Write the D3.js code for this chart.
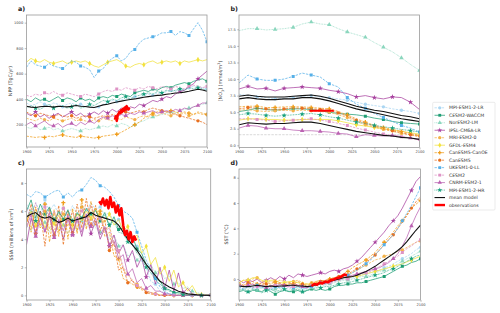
<!DOCTYPE html>
<html>
<head>
<meta charset="utf-8">
<script src="https://cdn.jsdelivr.net/npm/d3@7"></script>
<style>
body{margin:0;background:#fff;}
svg{font-family:"DejaVu Sans",sans-serif;}
</style>
</head>
<body>
<script>
// models, in legend order
var models = ["MPI-ESM1-2-LR","CESM2-WACCM","NorESM2-LM","IPSL-CM6A-LR","MRI-ESM2-0","GFDL-ESM4",
              "CanESM5-CanOE","CanESM5","UKESM1-0-LL","CESM2","CNRM-ESM2-1","MPI-ESM1-2-HR"];
var colors = ["#aad6f2","#1f9e74","#8ad6bd","#a8419f","#f3b24a","#f2e13c",
              "#f09d1c","#e8701f","#56b0e8","#de93c5","#bb62b2","#16a07c"];
var dashes = ["2.4,1.2",null,"0.8,0.8",null,"2.4,1.2",null,"2.4,1.2","2.4,1.2","2.4,1.2","2.4,1.2",null,"0.8,0.8"];
var symbols = [d3.symbolCircle,d3.symbolSquare,d3.symbolTriangle,d3.symbolStar,d3.symbolCircle,d3.symbolDiamond,
               d3.symbolCross,d3.symbolCircle,d3.symbolSquare,d3.symbolSquare,d3.symbolTriangle,d3.symbolStar];
var markOff = [0,0,0,10,0,10,0,10,0,0,10,10];

var years5 = d3.range(1900, 2101, 5);
var years10 = d3.range(1900, 2101, 10);
var xTicks = [1900,1925,1950,1975,2000,2025,2050,2075,2100];

// a) NPP (TgC/yr), every 5 years
var nppModels = [
 [370,350,360,380,360,350,370,360,340,360,370,350,360,340,350,330,340,360,370,390,380,400,390,410,420,410,430,440,430,450,440,460,470,460,480,470,490,500,480,490,480], // MPI-LR
 [400,380,410,390,400,380,400,420,390,410,400,380,410,390,400,380,410,420,410,430,420,440,430,420,450,460,470,460,480,470,490,500,490,510,520,530,520,540,550,560,540], // CESM2-WACCM
 [180,170,190,160,170,180,160,170,150,160,170,160,150,170,160,170,180,190,180,200,190,210,200,180,200,220,230,250,260,270,280,290,300,290,310,320,330,340,350,360,370], // NorESM2
 [290,270,300,260,280,250,270,290,260,280,300,270,290,260,280,300,280,310,290,320,300,330,310,340,330,360,350,370,390,380,400,420,410,440,460,470,500,520,560,590,620], // IPSL
 [250,240,230,250,240,230,250,240,230,240,250,230,240,230,220,240,230,250,240,230,250,240,260,250,240,260,270,260,280,270,290,280,270,290,280,290,270,280,290,280,280], // MRI
 [690,720,700,690,710,690,680,690,700,680,690,700,690,700,680,660,650,670,690,700,710,690,660,650,670,680,670,690,700,680,690,700,690,700,680,700,690,700,710,700,710], // GFDL
 [110,105,100,105,100,110,105,115,120,110,105,100,110,105,100,95,100,110,115,120,125,140,160,180,200,220,250,270,290,300,310,300,310,300,290,300,290,280,300,290,280], // CanOE
 [300,280,270,290,280,270,260,280,270,260,270,250,260,270,260,250,260,270,260,280,270,290,300,290,300,310,300,320,330,320,310,300,290,280,270,260,250,240,230,220,200], // CanESM5
 [650,700,670,660,650,680,660,650,640,670,700,690,660,650,630,570,620,640,690,720,740,700,720,770,790,840,870,880,890,900,920,920,930,900,930,920,900,950,1000,940,850], // UKESM
 [430,420,440,430,450,440,460,440,430,450,440,430,420,440,430,420,440,460,470,460,480,470,490,480,470,490,480,500,490,480,500,490,480,500,490,480,500,510,500,490,500], // CESM2
 [200,220,190,210,230,200,190,210,180,200,210,190,220,200,230,210,240,260,250,270,260,280,270,290,280,300,290,300,310,290,300,310,300,320,310,330,320,340,350,370,370], // CNRM
 [330,350,330,320,340,360,330,340,350,330,340,360,330,340,360,350,370,390,380,400,390,410,420,400,420,430,440,450,440,460,450,470,460,470,480,470,490,480,490,480,470]  // MPI-HR
];
var nppMean = [345,338,335,340,345,342,338,345,342,340,345,350,345,342,338,335,345,355,360,370,378,385,392,398,402,408,415,420,425,430,432,438,442,448,450,455,462,470,478,472,462];
var nppObsYears = d3.range(1998, 2015);
var nppObs = [240,265,230,275,285,300,290,315,300,325,310,335,320,345,330,320,335];

// b) [NO3] (mmol/m3), every 10 years
var no3Models = [
 [7.7,7.5,7.3,7.2,7.0,7.1,7.2,7.4,7.5,7.3,7.2,7.0,6.8,6.5,6.2,6.0,5.8,5.5,5.3,5.1,4.8],
 [5.1,5.3,5.6,5.4,5.3,5.4,5.5,5.5,5.4,5.2,5.0,4.8,4.7,4.6,4.4,4.1,3.9,3.6,3.4,3.3,3.2],
 [17.3,17.6,17.6,17.4,17.5,17.6,17.8,18.3,18.6,18.3,18.2,17.6,17.1,16.7,16.3,15.5,14.8,14.1,13.2,12.2,11.3],
 [8.5,8.9,8.5,8.6,8.2,8.6,8.7,8.8,8.7,8.6,8.3,8.1,7.8,7.3,7.5,7.2,7.0,7.3,7.2,6.5,5.4],
 [5.3,5.4,5.2,5.1,5.2,5.3,5.2,5.3,5.2,5.1,5.0,4.6,4.2,3.6,3.1,2.7,2.4,2.1,1.8,1.6,1.4],
 [3.8,4.0,4.0,3.9,3.9,3.8,3.8,3.9,3.9,3.9,3.9,3.7,3.4,3.1,2.9,2.7,2.5,2.3,2.1,1.9,1.7],
 [5.8,5.9,5.9,5.7,5.7,5.8,5.8,5.8,5.7,5.6,5.5,5.1,4.6,4.0,3.5,3.0,2.7,2.4,2.1,1.8,1.5],
 [5.5,5.7,5.6,5.5,5.4,5.5,5.6,5.6,5.5,5.4,5.3,4.9,4.4,3.8,3.3,2.9,2.5,2.2,1.9,1.6,1.3],
 [9.4,10.6,10.0,9.8,9.8,10.0,10.4,10.9,10.6,10.3,9.3,8.8,7.2,6.2,5.6,4.8,4.2,3.6,3.0,2.6,2.0],
 [4.0,4.0,3.9,3.8,3.6,3.7,3.8,3.9,4.0,3.8,3.6,3.3,3.0,2.6,2.3,2.0,1.7,1.5,1.3,1.1,0.9],
 [2.6,3.0,2.9,2.6,2.5,2.5,2.3,2.2,2.2,2.1,2.0,1.8,1.7,1.3,1.6,1.5,1.4,1.5,1.3,1.1,0.8],
 [4.6,4.8,4.7,4.5,4.4,4.5,4.6,4.7,4.8,4.6,4.3,4.1,3.8,3.5,3.3,3.0,2.8,2.6,2.4,2.2,2.0]
];
var no3MeanUpper = [7.4,7.6,7.4,7.3,7.3,7.3,7.4,7.5,7.6,7.4,7.1,6.7,6.3,5.9,5.6,5.3,5.1,4.8,4.5,4.3,4.0];
var no3MeanMid = [7.0,7.2,7.0,6.9,6.9,7.0,7.0,7.2,7.2,7.0,6.7,6.3,5.9,5.5,5.2,4.9,4.6,4.3,4.0,3.8,3.6];
var no3MeanLower = [3.1,3.4,3.3,3.2,3.3,3.3,3.4,3.5,3.5,3.3,3.0,2.7,2.4,2.1,1.9,1.7,1.5,1.4,1.2,1.1,0.9];
var no3ObsYears = [1978, 2005];
var no3Obs = [5.2, 5.2];
var no3Ref = 1.6;

// c) SSIA (millions of km2), every 5 years
var ssiaModels = [
 [6.5,5.8,6.6,5.9,6.8,6.0,6.5,5.7,6.2,5.6,6.4,5.8,6.3,6.0,6.6,6.1,6.3,5.7,5.9,5.2,5.4,4.5,4.6,3.6,3.5,2.4,2.0,1.0,0.8,0.3,0.2,0.1,0,0,0,0,0,0,0,0,0],
 [6.0,6.8,5.5,6.5,5.8,6.3,5.2,6.0,5.4,6.1,5.0,5.9,5.5,6.2,5.7,6.1,5.3,5.9,4.9,5.6,4.7,4.8,3.9,4.2,3.3,3.0,2.2,1.9,1.2,1.0,0.5,0.4,0.2,0.2,0.1,0.05,0,0,0,0,0],
 [5.0,4.6,5.4,4.8,5.2,4.5,5.3,4.7,5.0,4.4,5.1,4.6,5.3,4.9,5.5,4.8,4.5,4.8,4.0,4.3,3.5,3.6,2.8,3.0,2.5,2.8,2.0,2.2,1.6,1.8,1.2,1.4,0.8,0.9,0.5,0.6,0.3,0.2,0.1,0.05,0],
 [3.6,5.5,4.4,6.0,4.5,5.6,4.2,5.3,4.0,5.5,4.3,5.4,4.2,5.7,4.4,5.3,4.0,4.8,3.5,4.3,3.0,3.6,2.5,3.2,2.0,2.7,1.3,2.2,0.8,2.0,0.5,1.8,0.3,1.6,0.2,0.5,0.1,0.05,0,0,0],
 [5.5,4.8,6.2,5.0,6.0,4.7,6.1,4.5,5.8,4.9,6.0,4.6,6.3,5.2,6.4,5.0,5.8,4.6,5.0,3.5,3.2,1.8,1.5,1.0,0.8,0.5,0.3,0.2,0.1,0.05,0,0,0,0,0,0,0,0,0,0,0],
 [5.2,6.0,5.0,5.8,4.8,5.6,5.1,5.7,4.9,5.5,5.0,5.8,5.3,6.0,5.5,6.2,5.6,5.2,5.8,5.0,5.4,4.6,4.9,4.0,4.3,3.0,3.5,2.2,2.7,1.5,2.0,1.0,1.8,0.6,0.9,0.3,0.7,0.1,0.05,0,0],
 [5.8,4.5,6.3,4.8,6.5,3.8,6.0,4.2,6.6,4.0,6.2,4.4,6.8,4.7,6.7,5.0,6.0,4.2,4.5,2.8,2.6,1.2,1.0,0.8,0.6,0.4,0.3,0.2,0.1,0,0,0,0,0,0,0,0,0,0,0,0],
 [5.0,6.5,4.4,6.0,3.5,6.2,4.3,6.4,3.6,6.0,4.5,6.5,4.8,6.9,5.0,6.4,4.6,5.4,3.2,3.8,1.8,2.0,0.9,1.1,0.5,0.6,0.2,0.1,0.05,0,0,0,0,0,0,0,0,0,0,0,0],
 [7.2,7.0,7.4,7.3,7.0,7.2,7.4,7.5,7.0,7.3,7.0,7.4,7.5,7.9,8.4,8.2,7.8,7.7,7.4,7.0,6.4,6.0,5.8,5.5,4.5,3.5,2.5,1.8,1.2,0.6,0.3,0.1,0.05,0,0,0,0,0,0,0,0],
 [6.2,5.5,6.6,5.6,6.3,5.4,6.0,5.3,6.2,5.5,5.9,5.2,6.0,5.7,6.4,5.6,5.5,4.6,4.8,3.6,3.2,2.0,1.6,1.0,0.7,0.5,0.3,0.2,0.1,0,0,0,0,0,0,0,0,0,0,0,0],
 [4.8,5.8,4.2,5.5,4.5,5.9,4.1,5.4,4.6,5.7,4.3,5.6,4.5,5.8,4.9,5.5,4.3,4.9,3.6,3.9,2.6,2.9,1.5,1.9,0.9,1.2,0.5,0.7,0.3,0.3,0.1,0.1,0,0,0,0,0,0,0,0,0],
 [5.5,6.1,5.3,6.0,5.6,6.2,5.4,5.9,5.5,6.0,5.3,5.8,5.6,6.1,5.8,6.0,5.5,5.7,5.0,5.3,4.5,4.4,3.8,3.6,3.0,2.6,2.0,1.6,1.1,0.8,0.5,0.3,0.2,0.1,0.05,0,0,0,0,0,0]
];
var ssiaMean = [5.6,5.8,5.9,5.6,5.5,5.6,5.4,5.2,5.3,5.5,5.3,5.4,5.5,5.6,5.9,5.7,5.6,5.5,5.4,5.3,5.0,4.5,4.0,3.6,3.2,2.7,2.2,1.8,1.4,1.0,0.8,0.6,0.45,0.3,0.2,0.12,0.07,0.04,0.02,0.01,0];
var ssiaObsYears = d3.range(1979, 2020, 2);
var ssiaObs = [6.7,6.5,6.9,6.4,6.8,6.2,7.0,6.3,6.6,5.9,6.4,5.7,6.2,5.0,4.3,4.6,4.0,4.5,3.8,4.2,3.9];

// d) SST (degC), every 5 years
var sstModels = [
 [-0.7,-0.8,-0.6,-0.7,-0.8,-0.6,-0.7,-0.9,-0.7,-0.6,-0.7,-0.8,-0.7,-0.6,-0.8,-0.7,-0.6,-0.5,-0.4,-0.4,-0.3,-0.2,-0.1,0.0,0.0,0.1,0.2,0.3,0.4,0.5,0.6,0.7,0.9,1.0,1.2,1.4,1.6,1.8,2.0,2.3,2.5],
 [-1.0,-0.9,-1.1,-0.9,-0.9,-1.0,-0.8,-1.0,-1.2,-1.0,-0.9,-1.0,-1.0,-0.9,-1.1,-0.9,-0.8,-0.9,-0.8,-0.9,-0.8,-0.6,-0.5,-0.5,-0.4,-0.4,-0.3,-0.3,-0.2,-0.1,0.0,0.1,0.2,0.4,0.6,0.8,1.0,1.1,1.3,1.4,1.6],
 [-0.8,-0.9,-0.7,-0.8,-0.9,-0.7,-0.8,-1.0,-0.8,-0.7,-0.8,-0.9,-0.8,-0.7,-0.9,-0.8,-0.7,-0.6,-0.6,-0.5,-0.4,-0.3,-0.2,-0.1,-0.1,0.0,0.1,0.2,0.2,0.3,0.5,0.6,0.7,0.9,1.0,1.2,1.4,1.6,1.8,2.0,2.2],
 [-0.1,-0.3,-0.1,-0.2,0.0,-0.3,-0.1,0.1,-0.1,0.2,0.0,0.3,0.1,0.4,0.3,0.2,0.3,0.4,0.5,0.4,0.6,0.7,0.6,0.8,0.9,1.1,1.4,1.7,2.1,2.5,2.9,3.3,3.7,4.2,4.6,5.0,5.6,6.3,7.0,7.7,8.1],
 [-0.3,-0.1,-0.2,0.0,0.1,-0.2,-0.3,-0.2,-0.3,-0.1,-0.2,-0.3,-0.2,-0.1,-0.3,-0.4,-0.3,-0.2,-0.1,-0.2,-0.1,0.0,0.1,0.2,0.3,0.5,0.7,0.9,1.1,1.3,1.5,1.6,1.8,1.9,2.0,2.2,2.3,2.5,2.7,2.9,3.0],
 [-0.3,-0.1,-0.1,0.1,0.1,-0.1,-0.2,-0.1,-0.1,-0.3,-0.3,-0.2,-0.2,-0.3,-0.4,-0.4,-0.4,-0.3,-0.3,-0.2,-0.1,0.0,0.0,0.1,0.1,0.2,0.2,0.3,0.4,0.5,0.6,0.7,0.8,0.9,1.0,1.1,1.2,1.35,1.5,1.65,1.8],
 [-0.3,-0.5,-0.4,-0.2,-0.4,-0.5,-0.3,-0.4,-0.2,-0.4,-0.5,-0.3,-0.4,-0.2,-0.4,-0.5,-0.4,-0.2,-0.1,-0.2,0.0,0.1,0.2,0.4,0.6,0.9,1.1,1.3,1.5,1.8,2.1,2.5,2.9,3.3,3.7,4.2,4.6,5.1,5.6,5.9,6.2],
 [-0.4,-0.5,-0.3,-0.4,-0.5,-0.3,-0.4,-0.6,-0.4,-0.3,-0.5,-0.4,-0.3,-0.5,-0.4,-0.6,-0.5,-0.3,-0.2,-0.1,0.0,0.1,0.2,0.3,0.4,0.6,0.8,1.0,1.3,1.6,1.9,2.3,2.7,3.1,3.5,4.0,4.5,5.0,5.6,6.1,6.5],
 [-0.6,-0.8,-0.6,-0.7,-0.5,-0.7,-0.6,-0.8,-0.6,-0.7,-0.6,-0.5,-0.7,-0.6,-0.8,-0.7,-0.6,-0.5,-0.4,-0.3,-0.2,0.0,0.1,0.2,0.3,0.5,0.7,0.9,1.2,1.5,1.9,2.3,2.7,3.1,3.5,4.0,4.6,5.2,5.8,6.5,7.2],
 [-0.5,-0.6,-0.5,-0.7,-0.6,-0.5,-0.6,-0.7,-0.5,-0.6,-0.5,-0.7,-0.6,-0.5,-0.6,-0.7,-0.5,-0.4,-0.4,-0.3,-0.3,-0.2,-0.1,0.0,0.0,0.2,0.3,0.4,0.5,0.6,0.8,1.0,1.2,1.4,1.6,1.8,2.1,2.4,2.6,2.9,3.1],
 [-0.4,-0.6,-0.5,-0.4,-0.6,-0.5,-0.7,-0.5,-0.6,-0.4,-0.5,-0.6,-0.4,-0.5,-0.6,-0.7,-0.5,-0.4,-0.3,-0.4,-0.2,-0.1,0.0,0.1,0.2,0.3,0.4,0.5,0.6,0.7,0.8,0.9,1.1,1.3,1.6,2.0,2.6,3.3,4.2,5.0,5.7],
 [-0.9,-0.8,-1.0,-0.8,-0.9,-1.1,-0.9,-0.8,-1.0,-0.9,-0.8,-1.0,-0.9,-0.8,-1.0,-0.9,-0.8,-0.7,-0.7,-0.6,-0.6,-0.5,-0.4,-0.3,-0.3,-0.2,-0.1,0.0,0.1,0.2,0.3,0.4,0.5,0.7,0.8,1.0,1.2,1.4,1.6,1.8,1.9]
];
var sstMean = [-0.55,-0.6,-0.6,-0.55,-0.5,-0.55,-0.6,-0.55,-0.6,-0.55,-0.55,-0.5,-0.5,-0.55,-0.55,-0.6,-0.55,-0.45,-0.35,-0.3,-0.2,-0.1,0.0,0.1,0.15,0.2,0.3,0.45,0.6,0.8,1.0,1.25,1.5,1.75,2.0,2.25,2.55,2.95,3.4,3.85,4.25];
var sstObsYears = d3.range(1980, 2020, 3);
var sstObs = [-0.55,-0.4,-0.45,-0.3,-0.35,-0.2,-0.25,-0.1,-0.05,0.05,0.1,0.2,0.35,0.3];

var svg = d3.select("body").append("svg").attr("width", 500).attr("height", 313);

var panels = [
 {id:"a", left:26.5, right:207, top:15, bottom:147, domain:[25,1060], ticks:[200,400,600,800,1000], fmt:d3.format("d"),
  years:years5, models:nppModels, means:[nppMean], obsYears:nppObsYears, obs:nppObs, obsW:2.6, labelX:12},
 {id:"b", left:239, right:419.5, top:15, bottom:147.5, domain:[-0.33,19.66], ticks:[0,2.5,5,7.5,10,12.5,15,17.5], fmt:d3.format(".1f"),
  years:years10, models:no3Models, means:[no3MeanUpper,no3MeanMid,no3MeanLower], obsYears:no3ObsYears, obs:no3Obs, obsW:2, labelX:222},
 {id:"c", left:26.5, right:210.7, top:169, bottom:300, domain:[-0.33,9.0], ticks:[0,2,4,6,8], fmt:d3.format("d"),
  years:years5, models:ssiaModels, means:[ssiaMean], obsYears:ssiaObsYears, obs:ssiaObs, obsW:2.6, labelX:13},
 {id:"d", left:239, right:420.5, top:169, bottom:300, domain:[-1.66,8.69], ticks:[0,2,4,6,8], fmt:d3.format("d"),
  years:years5, models:sstModels, means:[sstMean], obsYears:sstObsYears, obs:sstObs, obsW:2.6, labelX:228}
];

function drawPanel(p){
  var x = d3.scaleLinear().domain([1900,2100]).range([p.left,p.right]);
  var y = d3.scaleLinear().domain(p.domain).range([p.bottom,p.top]);
  var g = svg.append("g");

  g.append("clipPath").attr("id","clip"+p.id)
    .append("rect").attr("x",p.left).attr("y",p.top).attr("width",p.right-p.left).attr("height",p.bottom-p.top);
  var plot = g.append("g").attr("clip-path","url(#clip"+p.id+")");

  var line = d3.line().x(function(d){return x(d[0]);}).y(function(d){return y(d[1]);});

  if(p.id=="b"){
    plot.append("line").attr("x1",x(1900)).attr("x2",x(2100)).attr("y1",y(no3Ref)).attr("y2",y(no3Ref))
      .attr("stroke","#c8c8c8").attr("stroke-width",0.7).attr("stroke-dasharray","2.4,1.2");
  }

  p.models.forEach(function(vals,i){
    var pts = p.years.map(function(yr,j){return [yr, vals[j]];});
    plot.append("path").datum(pts).attr("d",line)
      .attr("fill","none").attr("stroke",colors[i]).attr("stroke-width",0.75)
      .attr("stroke-dasharray",dashes[i]);
    var marks = pts.filter(function(d){return (d[0]-1900-markOff[i]+20)%20==0 && d[0]>1900;});
    plot.selectAll(null).data(marks).enter().append("path")
      .attr("d",d3.symbol().type(symbols[i]).size(9))
      .attr("transform",function(d){return "translate("+x(d[0])+","+y(d[1])+")";})
      .attr("fill",colors[i]);
  });

  p.means.forEach(function(vals){
    var pts = p.years.map(function(yr,j){return [yr, vals[j]];});
    plot.append("path").datum(pts).attr("d",line)
      .attr("fill","none").attr("stroke","#111").attr("stroke-width",1.1);
  });

  var obsPts = p.obsYears.map(function(yr,j){return [yr, p.obs[j]];});
  plot.append("path").datum(obsPts).attr("d",line)
    .attr("fill","none").attr("stroke","#ff0000").attr("stroke-width",p.obsW).attr("stroke-linejoin","round");

  // frame
  g.append("rect").attr("x",p.left).attr("y",p.top).attr("width",p.right-p.left).attr("height",p.bottom-p.top)
    .attr("fill","none").attr("stroke","#999").attr("stroke-width",0.8);

  var xa = g.append("g").attr("transform","translate(0,"+p.bottom+")")
    .call(d3.axisBottom(x).tickValues(xTicks).tickFormat(d3.format("d")).tickSize(1.8).tickPadding(1.5));
  var ya = g.append("g").attr("transform","translate("+p.left+",0)")
    .call(d3.axisLeft(y).tickValues(p.ticks).tickFormat(p.fmt).tickSize(1.8).tickPadding(1.5));
  [xa,ya].forEach(function(a){
    a.select(".domain").remove();
    a.selectAll("line").attr("stroke","#777").attr("stroke-width",0.5);
    a.selectAll("text").attr("font-size",3.6).attr("fill","#444").attr("font-family","DejaVu Sans");
  });

  g.append("text").attr("x",p.left-8.5).attr("y",p.top-4).attr("font-size",6.3).attr("font-weight","bold")
    .attr("fill","#222").text(p.id+")");
}

panels.forEach(drawPanel);

// y-axis labels
function yLabel(px, cy, build){
  var t = svg.append("text").attr("transform","translate("+px+","+cy+") rotate(-90)")
    .attr("text-anchor","middle").attr("font-size",4.8).attr("fill","#333");
  build(t);
}
yLabel(panels[0].labelX, 81, function(t){ t.text("NPP (TgC/yr)"); });
yLabel(panels[1].labelX, 81, function(t){
  t.append("tspan").text("[NO");
  t.append("tspan").attr("baseline-shift","sub").attr("font-size",3.4).text("3");
  t.append("tspan").text("] (mmol/m");
  t.append("tspan").attr("baseline-shift","super").attr("font-size",3.4).text("3");
  t.append("tspan").text(")");
});
yLabel(panels[2].labelX, 234.5, function(t){
  t.append("tspan").text("SSIA (millions of km");
  t.append("tspan").attr("baseline-shift","super").attr("font-size",3.4).text("2");
  t.append("tspan").text(")");
});
yLabel(panels[3].labelX, 234.5, function(t){ t.text("SST (\u00b0C)"); });

// legend
var leg = svg.append("g");
leg.append("rect").attr("x",432.7).attr("y",102.3).attr("width",62.3).attr("height",107.7)
  .attr("fill","#fff").attr("stroke","#ddd").attr("stroke-width",0.6).attr("rx",1);
var legItems = models.map(function(m,i){return {name:m, color:colors[i], dash:dashes[i], sym:symbols[i], w:0.75};});
legItems.push({name:"mean model", color:"#111", dash:null, sym:null, w:1.1});
legItems.push({name:"observations", color:"#ff0000", dash:null, sym:null, w:2.4});
legItems.forEach(function(it,i){
  var yy = 107.8 + i*7.48;
  leg.append("line").attr("x1",434.5).attr("x2",445).attr("y1",yy).attr("y2",yy)
    .attr("stroke",it.color).attr("stroke-width",it.w).attr("stroke-dasharray",it.dash);
  if(it.sym){
    leg.append("path").attr("d",d3.symbol().type(it.sym).size(8))
      .attr("transform","translate(439.75,"+yy+")").attr("fill",it.color);
  }
  leg.append("text").attr("x",449).attr("y",yy+1.6).attr("font-size",4.6).attr("fill","#333").text(it.name);
});
</script>
</body>
</html>
